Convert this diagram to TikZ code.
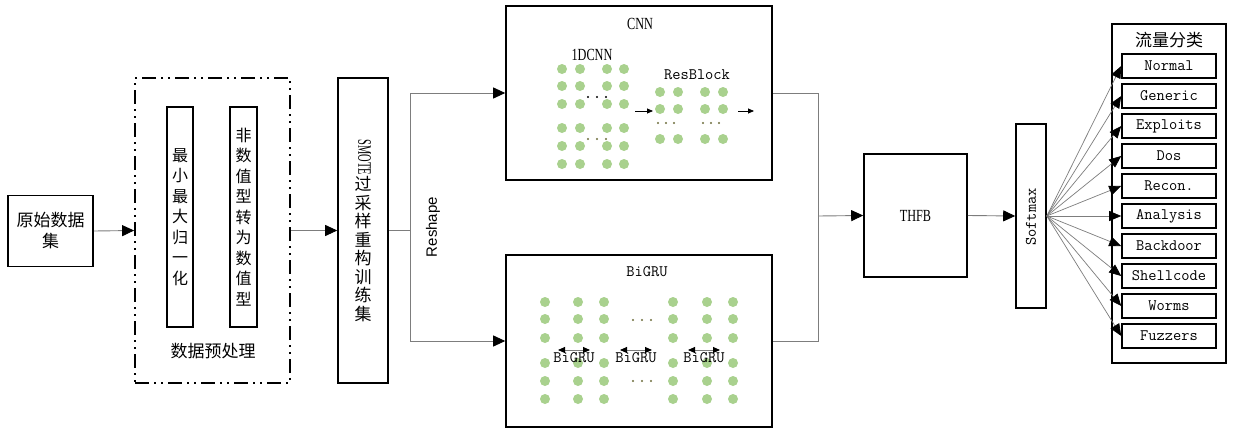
\documentclass[tikz,border=0pt]{standalone}
\usepackage{fontspec}
\usepackage{graphicx}
\usetikzlibrary{arrows.meta}
\newfontfamily\cjk{Noto Sans CJK SC}
\newfontfamily\libserif{Liberation Serif}
\newfontfamily\libsans{Liberation Sans}
% condensed serif for short Latin labels
\newcommand\condtext[2][0.72]{\scalebox{#1}[1]{\libserif\fontsize{17}{17}\selectfont #2}}
\definecolor{dotgreen}{HTML}{A9D18E}
\definecolor{dotolive}{RGB}{110,110,60}
\definecolor{wire}{RGB}{125,125,125}
\begin{document}
\begin{tikzpicture}[x=1pt,y=-1pt,
  box/.style={draw=black, line width=1.6pt, inner sep=0pt, align=center},
  cjktext/.style={font=\cjk\fontsize{17}{21}\selectfont},
  vstack/.style={font=\cjk\fontsize{16}{20.5}\selectfont, align=center},
  monotext/.style={font=\ttfamily\fontsize{16}{16}\selectfont},
  conn/.style={draw=wire, line width=0.9pt},
  bigtip/.style={-{Triangle[length=12pt,width=11pt,color=black]}},
  fantip/.style={-{Triangle[length=12pt,width=10pt,color=black]}},
  smalltip/.style={-{Triangle[length=6pt,width=5pt,color=black]}},
  dualtip/.style={{Triangle[length=7pt,width=6pt,color=black]}-{Triangle[length=7pt,width=6pt,color=black]}},
  classbox/.style={box, minimum width=94pt, minimum height=24pt, monotext}
]
\useasboundingbox (0,0) rectangle (1237,431);
\fill[white] (0,0) rectangle (1237,431);

% ---- input and preprocessing ----
\node[box, cjktext, minimum width=85pt, minimum height=71pt] (raw) at (50.5,231) {原始数据\\集};
\node[draw=black, line width=1.8pt, dash pattern={on 14pt off 5pt on 2pt off 5pt on 2pt off 5pt},
      minimum width=155pt, minimum height=305pt, inner sep=0pt] (pre) at (212.5,230.5) {};
\node[box, vstack, minimum width=26pt, minimum height=220pt] (norm) at (180,217)
  {最\\小\\最\\大\\归\\一\\化};
\node[box, vstack, minimum width=27pt, minimum height=220pt] (conv) at (243.5,217)
  {非\\数\\值\\型\\转\\为\\数\\值\\型};
\node[cjktext] (prelabel) at (213,351) {数据预处理};

% oversampling block: Latin part turned, Chinese part stacked
\node[box, minimum width=50pt, minimum height=305pt] (smote) at (363,230.5) {};
\node[rotate=-90, inner sep=0pt] (smotelat) at (364.5,157.5) {\condtext[0.55]{\fontsize{19}{19}\selectfont SMOTE}};
\node[vstack, font=\cjk\fontsize{17}{18.5}\selectfont, inner sep=0pt] (smotecjk) at (363,249)
  {过\\采\\样\\重\\构\\训\\练\\集};

\draw[conn, bigtip] (raw.east) -- (pre.west);
\draw[conn, bigtip] (pre.east) -- (smote.west);

% ---- reshape split ----
\coordinate (split) at (410,230.5);
\node[rotate=90, font=\libsans\fontsize{15}{15}\selectfont] (reshape) at (433,227) {Reshape};

% ---- CNN branch ----
\node[box, minimum width=266pt, minimum height=174pt] (cnn) at (639,93) {};
\node (cnntitle) at (640,24) {\condtext{CNN}};
\node (c1d) at (592,55) {\condtext{1DCNN}};
\node[monotext] (resblk) at (697,75) {ResBlock};
\foreach \xx in {562,580,607,624}
  \foreach \yy in {69,86,104,128,146,164}
    \fill[dotgreen] (\xx,\yy) circle[radius=5pt];
\foreach \xx in {588,597,606} {
  \fill[black] (\xx,97) circle[radius=1.1pt];
  \fill[dotolive] (\xx,139) circle[radius=1.1pt];
}
\foreach \xx in {660,678,705,723}
  \foreach \yy in {92,109,139}
    \fill[dotgreen] (\xx,\yy) circle[radius=5pt];
\foreach \xx in {658,666,674,703,711,719}
  \fill[dotolive] (\xx,123) circle[radius=1.1pt];
\coordinate (a1s) at (635,111); \coordinate (a1e) at (653,111);
\coordinate (a2s) at (738,111); \coordinate (a2e) at (754,111);
\draw[black, line width=0.8pt, smalltip] (a1s) -- (a1e);
\draw[black, line width=0.8pt, smalltip] (a2s) -- (a2e);

% ---- BiGRU branch ----
\node[box, minimum width=266pt, minimum height=172pt] (bigru) at (639,341) {};
\node[monotext] (grutitle) at (647,272) {BiGRU};
\foreach \xx in {545,578,604,673,707,733}
  \foreach \yy in {302,319,338,363,381,399}
    \fill[dotgreen] (\xx,\yy) circle[radius=5pt];
\foreach \xx in {633,642,651} {
  \fill[dotolive] (\xx,320) circle[radius=1.1pt];
  \fill[dotolive] (\xx,381) circle[radius=1.1pt];
}
\foreach \cx/\nm in {574/g1,636/g2,704/g3} {
  \coordinate (\nm l) at (\cx-16,350);
  \coordinate (\nm r) at (\cx+16,350);
  \draw[conn, dualtip] (\nm l) -- (\nm r);
  \node[monotext] (\nm) at (\cx,358) {BiGRU};
}

\draw[conn, bigtip] (split |- smote.east) -- (split |- cnn.west) -- (cnn.west);
\draw[conn, bigtip] (split |- smote.east) -- (split |- bigru.west) -- (bigru.west);
\draw[conn] (smote.east) -- (split);

% ---- fusion, softmax ----
\coordinate (merge) at (818,216);
\node[box, minimum width=103pt, minimum height=123pt] (thfb) at (915.5,215.5) {\condtext{THFB}};
\node[box, minimum width=30pt, minimum height=184pt] (soft) at (1031,216) {};
\node[monotext, rotate=90] (softlabel) at (1031,217) {Softmax};

\draw[conn] (cnn.east) -- (merge |- cnn.east) -- (merge |- bigru.east) -- (bigru.east);
\draw[conn, bigtip] (merge) -- (thfb.west);
\draw[conn, bigtip] (thfb.east) -- (soft.west);

% ---- traffic classes ----
\node[box, minimum width=114pt, minimum height=339pt] (cls) at (1169,193.5) {};
\node[cjktext] (clstitle) at (1169,40) {流量分类};
\foreach \lbl [count=\i from 0] in {Normal,Generic,Exploits,Dos,Recon.,Analysis,Backdoor,Shellcode,Worms,Fuzzers} {
  \node[classbox] (k\i) at (1169,66+30*\i) {\lbl};
  \draw[conn, line width=0.7pt, fantip] (soft.east) -- (k\i.west);
}
\end{tikzpicture}
\end{document}
